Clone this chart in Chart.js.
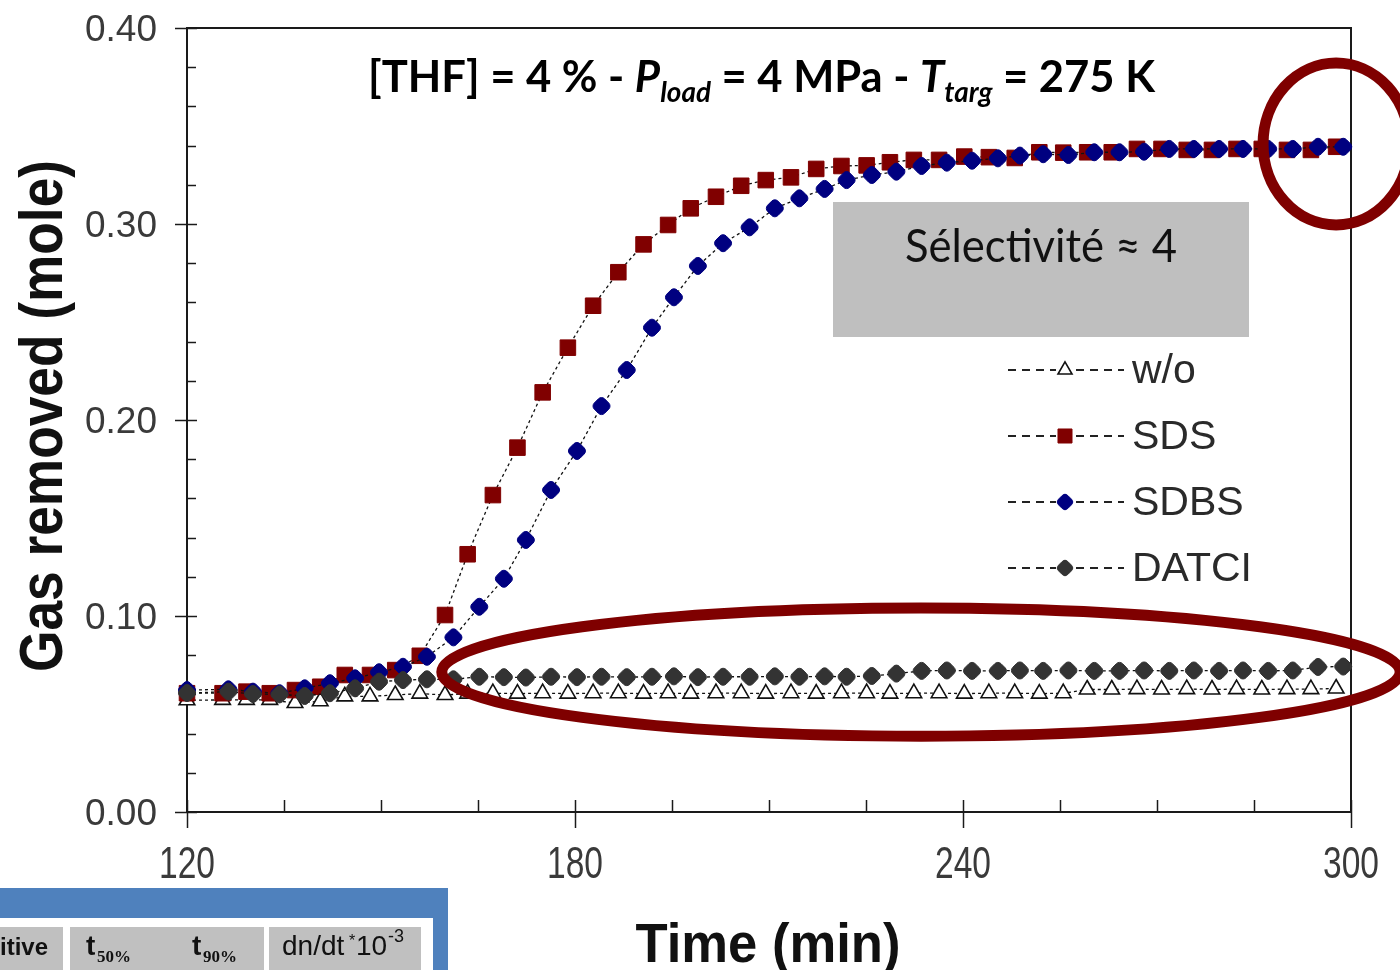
<!DOCTYPE html>
<html><head><meta charset="utf-8">
<script src="https://cdn.jsdelivr.net/npm/chart.js@4.4.1/dist/chart.umd.min.js"></script>
<style>html,body{margin:0;padding:0;background:#fff;overflow:hidden}#wrap{width:1400px;height:970px;position:relative}</style>
</head><body><div id="wrap"><canvas id="c"></canvas></div>
<script>
// ---- data ----
const timeA = [120.0,125.5,129.2,132.8,136.7,140.6,144.4,148.3,152.2,156.0,159.9,163.4,167.3,171.1,175.0,178.9,182.8,186.7,190.6,194.4,197.9,201.8,205.7,209.5,213.4,217.3,221.2,225.1,228.7,232.4,236.3,240.2,244.0,248.0,251.8,255.5,259.2,263.0,266.9,270.7,274.6,278.5,282.3,286.2,290.1,293.8,297.7];
const timeB = [120.0,126.4,130.2,134.3,138.2,142.1,146.0,149.7,153.4,157.1,161.2,165.2,169.0,172.4,176.3,180.3,184.1,188.0,191.9,195.3,199.0,202.9,207.0,210.9,214.7,218.6,222.0,225.9,229.7,233.6,237.5,241.4,245.4,248.8,252.4,256.3,260.3,264.2,268.0,271.9,275.7,279.6,283.3,287.2,291.0,294.9,298.8];
const woValues = [0.0570,0.0572,0.0572,0.0572,0.0556,0.0565,0.0590,0.0590,0.0597,0.0604,0.0597,
  0.0604,0.0606,0.0604,0.0606,0.0604,0.0606,0.0606,0.0604,0.0606,0.0604,0.0606,0.0606,0.0604,0.0606,0.0604,0.0606,0.0606,0.0604,0.0606,0.0606,0.0604,0.0606,0.0606,0.0604,0.0606,
  0.0625,0.0625,0.0627,0.0625,0.0627,0.0625,0.0627,0.0625,0.0627,0.0627,0.0630];
const sdsValues = [0.0606,0.0606,0.0614,0.0606,0.0622,0.0639,0.0699,0.0699,0.0724,0.0797,0.1005,0.1315,0.1617,0.1859,0.2141,0.2369,0.2583,0.2754,0.2896,0.2995,0.3080,0.3139,0.3195,0.3224,0.3238,0.3281,0.3296,0.3299,0.3315,0.3327,0.3327,0.3344,0.3341,0.3337,0.3366,0.3364,0.3366,0.3366,0.3383,0.3383,0.3378,0.3378,0.3383,0.3383,0.3378,0.3378,0.3394];
const sdbsValues = [0.0622,0.0626,0.0614,0.0606,0.0631,0.0657,0.0682,0.0713,0.0741,0.0792,0.0891,0.1047,0.1190,0.1388,0.1643,0.1842,0.2071,0.2255,0.2471,0.2626,0.2786,0.2902,0.2983,0.3080,0.3131,0.3179,0.3224,0.3250,0.3267,0.3296,0.3313,0.3323,0.3335,0.3349,0.3356,0.3352,0.3366,0.3366,0.3369,0.3383,0.3383,0.3383,0.3383,0.3383,0.3383,0.3394,0.3394];
const datciValues = [0.0607,0.0614,0.0602,0.0600,0.0592,0.0606,0.0631,0.0665,0.0673,0.0677,0.0677,0.0690,
  0.0688,0.0686,0.0690,0.0688,0.0690,0.0688,0.0690,0.0692,0.0688,0.0690,0.0690,0.0692,0.0690,0.0692,0.0690,0.0694,
  0.0706,
  0.0720,0.0722,0.0720,0.0720,0.0722,0.0720,0.0722,0.0720,0.0720,0.0722,0.0720,0.0722,0.0720,0.0722,0.0720,0.0722,
  0.0740,0.0742];
const seriesNames = ['w/o','SDS','SDBS','DATCI'];
const xTickValues = [120,180,240,300];
const yTickValues = [0,0.1,0.2,0.3,0.4];
const titleRuns = [
  {text:'[THF] = 4 % - '},{text:'P',italic:true},{text:'load',italic:true,sub:true},
  {text:' = 4 MPa - '},{text:'T',italic:true},{text:'targ',italic:true,sub:true},{text:' = 275 K'}];
const boxText = 'Sélectivité ≈ 4';
const xTitle = 'Time (min)';
const yTitle = 'Gas removed (mole)';

const toPts = (t, v) => t.map((x, i) => ({x, y: v[i]}));
const lineCommon = {showLine:true, borderColor:'#111', borderWidth:1.3, borderDash:[3,3], clip:false, tension:0};

const SANS = "'Liberation Sans', Arial, sans-serif";
const CAL = "Lato, 'Open Sans', sans-serif";

function drawRuns(ctx, runs, x, baseline, targetW, size, family, weight) {
  const fontFor = r => `${r.italic ? 'italic ' : ''}${weight} ${r.sub ? size * 0.64 : size}px ${family}`;
  let w = 0;
  runs.forEach(r => { ctx.font = fontFor(r); w += ctx.measureText(r.text).width; });
  const k = targetW / w;
  ctx.save(); ctx.translate(x, baseline); ctx.scale(k, 1);
  let cx = 0; ctx.textAlign = 'left'; ctx.textBaseline = 'alphabetic';
  runs.forEach(r => { ctx.font = fontFor(r); ctx.fillText(r.text, cx, r.sub ? size * 0.22 : 0); cx += ctx.measureText(r.text).width; });
  ctx.restore();
}
function fitText(ctx, text, cx, baseline, targetW, font, rot, align) {
  ctx.save(); ctx.font = font;
  const w = ctx.measureText(text).width;
  ctx.translate(cx, baseline); if (rot) ctx.rotate(rot);
  ctx.scale(targetW / w, 1); ctx.textAlign = align || 'center'; ctx.textBaseline = 'alphabetic';
  ctx.fillText(text, 0, 0); ctx.restore();
}
function marker(ctx, ds, x, y, scale) {
  ctx.save();
  ctx.fillStyle = ds.pointBackgroundColor; ctx.strokeStyle = ds.pointBorderColor; ctx.lineWidth = ds.pointBorderWidth;
  ctx.setLineDash([]);
  Chart.helpers.drawPoint(ctx, {pointStyle: ds.pointStyle, rotation: ds.pointRotation || 0, radius: ds.pointRadius * scale, borderWidth: ds.pointBorderWidth}, x, y);
  ctx.restore();
}

const framePlugin = {
  id: 'frame',
  beforeDatasetsDraw(chart) {
    const {ctx, chartArea: ca, scales: {x, y}} = chart;
    ctx.save(); ctx.strokeStyle = '#1a1a1a'; ctx.lineWidth = 2;
    ctx.strokeRect(ca.left, ca.top, ca.right - ca.left, ca.bottom - ca.top);
    ctx.lineWidth = 1.5;
    for (let v = 0; v <= 0.4001; v += 0.02) {
      const py = Math.round(y.getPixelForValue(v)) + 0.5;
      const major = Math.abs(v * 10 - Math.round(v * 10)) < 1e-6;
      ctx.beginPath(); ctx.moveTo(major ? ca.left - 12 : ca.left, py); ctx.lineTo(ca.left + (major ? 10 : 9), py); ctx.stroke();
    }
    for (let t = 120; t <= 300; t += 15) {
      const px = Math.round(x.getPixelForValue(t)) + 0.5;
      const major = (t - 120) % 60 === 0;
      ctx.beginPath(); ctx.moveTo(px, ca.bottom - 12); ctx.lineTo(px, major ? ca.bottom + 16 : ca.bottom); ctx.stroke();
    }
    // tick labels (condensed x, wide y, like the original)
    ctx.fillStyle = '#3a3a3a';
    xTickValues.forEach(v => fitText(ctx, String(v), x.getPixelForValue(v), 878, 56, `44px ${SANS}`, 0));
    yTickValues.forEach(v => fitText(ctx, v.toFixed(2), 157, y.getPixelForValue(v) + 13, 72, `36px ${SANS}`, 0, 'right'));
    ctx.restore();
  },
  afterDatasetsDraw(chart) {
    const {ctx, scales: {x, y}} = chart;
    ctx.save();
    // ellipses (annotation)
    ctx.strokeStyle = '#7f0000'; ctx.lineWidth = 11;
    const ell = (t, v, dt, dv) => {
      const cx = x.getPixelForValue(t), cy = y.getPixelForValue(v);
      const rx = x.getPixelForValue(t + dt) - cx, ry = cy - y.getPixelForValue(v + dv);
      ctx.beginPath(); ctx.ellipse(cx, cy, rx, ry, 0, 0, Math.PI * 2); ctx.stroke();
    };
    ell(233.5, 0.0714, 74.1, 0.0327);
    ell(297.7, 0.3408, 11.3, 0.0413);
    // grey box
    ctx.fillStyle = '#bfbfbf'; ctx.fillRect(833, 202, 416, 135);
    ctx.fillStyle = '#111';
    drawRuns(ctx, [{text: boxText}], 905, 262, 272, 46, CAL, 'normal');
    // title
    ctx.fillStyle = '#000';
    drawRuns(ctx, titleRuns, 368, 92, 787, 44, CAL, 'bold');
    // legend
    const ly = [370, 436, 502, 568];
    chart.data.datasets.forEach((ds, i) => {
      ctx.save(); ctx.strokeStyle = '#222'; ctx.lineWidth = 2; ctx.setLineDash([8, 6]);
      ctx.beginPath(); ctx.moveTo(1008, ly[i]); ctx.lineTo(1056, ly[i]); ctx.stroke();
      ctx.beginPath(); ctx.moveTo(1076, ly[i]); ctx.lineTo(1124, ly[i]); ctx.stroke();
      ctx.restore();
      marker(ctx, ds, 1065, ly[i], 0.9);
      ctx.fillStyle = '#2a2a2a'; ctx.font = `41px ${SANS}`; ctx.textAlign = 'left'; ctx.textBaseline = 'middle';
      ctx.fillText(ds.label, 1132, ly[i] + 2);
    });
    // axis titles
    ctx.fillStyle = '#111';
    fitText(ctx, yTitle, 62, 416, 512, `bold 61px ${SANS}`, -Math.PI / 2);
    fitText(ctx, xTitle, 768, 962, 265, `bold 56px ${SANS}`, 0);
    // bottom-left table fragment
    ctx.fillStyle = '#4f81bd'; ctx.fillRect(0, 888, 448, 82);
    ctx.fillStyle = '#ffffff'; ctx.fillRect(0, 918, 433, 52);
    ctx.fillStyle = '#c0c0c0';
    ctx.fillRect(0, 927, 63, 43); ctx.fillRect(70, 927, 194, 43); ctx.fillRect(269, 927, 152, 43);
    ctx.fillStyle = '#111'; ctx.textAlign = 'left'; ctx.textBaseline = 'alphabetic';
    ctx.font = `bold 24px ${SANS}`; ctx.fillText('itive', 0, 955);
    ctx.font = `bold 28px ${SANS}`; ctx.fillText('t', 86, 955); ctx.fillText('t', 192, 955);
    ctx.font = `bold 17px 'Liberation Serif', serif`; ctx.fillText('50%', 97, 962); ctx.fillText('90%', 203, 962);
    ctx.font = `28px ${SANS}`; ctx.fillText('dn/dt', 282, 955);
    ctx.font = `16px ${SANS}`; ctx.fillText('*', 349, 946);
    ctx.font = `28px ${SANS}`; ctx.fillText('10', 356, 955);
    ctx.font = `18px ${SANS}`; ctx.fillText('-3', 388, 942);
    ctx.restore();
  }
};

const chart = new Chart(document.getElementById('c'), {
  type: 'scatter',
  data: {datasets: [
    {label: seriesNames[0], data: toPts(timeA, woValues), pointStyle: 'triangle', pointRadius: 9, pointBackgroundColor: '#ffffff', pointBorderColor: '#111', pointBorderWidth: 1.6, order: 4, ...lineCommon},
    {label: seriesNames[1], data: toPts(timeA, sdsValues), pointStyle: 'rect', pointRadius: 11, pointBackgroundColor: '#800000', pointBorderColor: '#800000', pointBorderWidth: 1, order: 3, ...lineCommon},
    {label: seriesNames[2], data: toPts(timeB, sdbsValues), pointStyle: 'rectRounded', pointRotation: 45, pointRadius: 8.5, pointBackgroundColor: '#000080', pointBorderColor: '#000080', pointBorderWidth: 1, order: 2, ...lineCommon},
    {label: seriesNames[3], data: toPts(timeB, datciValues), pointStyle: 'rectRounded', pointRotation: 45, pointRadius: 8.5, pointBackgroundColor: '#333333', pointBorderColor: '#333333', pointBorderWidth: 1, order: 1, ...lineCommon}
  ]},
  options: {
    responsive: true, maintainAspectRatio: false, animation: false, devicePixelRatio: 1,
    layout: {padding: {left: 0, top: 28, right: 49, bottom: 0}, autoPadding: false},
    plugins: {legend: {display: false}, tooltip: {enabled: false}},
    events: [],
    scales: {
      x: {type: 'linear', min: 120, max: 300,
        afterBuildTicks: s => { s.ticks = xTickValues.map(v => ({value: v})); },
        afterFit: s => { s.height = 158; s.paddingLeft = 0; s.paddingRight = 0; },
        grid: {display: false, drawTicks: false}, border: {display: false},
        ticks: {display: false}},
      y: {type: 'linear', min: 0, max: 0.4,
        afterBuildTicks: s => { s.ticks = yTickValues.map(v => ({value: v})); },
        afterFit: s => { s.width = 187; s.paddingTop = 0; s.paddingBottom = 0; },
        grid: {display: false, drawTicks: false}, border: {display: false},
        ticks: {display: false}}
    }
  },
  plugins: [framePlugin]
});
</script></body></html>
